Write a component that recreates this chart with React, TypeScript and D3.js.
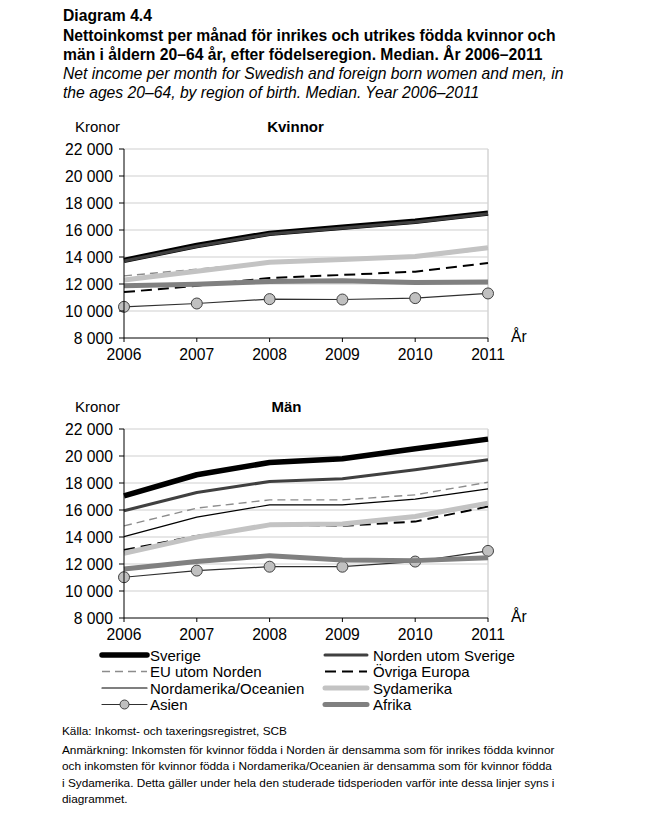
import React from "react";
import * as d3 from "d3";

const years = [2006, 2007, 2008, 2009, 2010, 2011];
const yTicks = [8000, 10000, 12000, 14000, 16000, 18000, 20000, 22000];

const seriesNames = [
  "Sverige",
  "Norden utom Sverige",
  "EU utom Norden",
  "Övriga Europa",
  "Nordamerika/Oceanien",
  "Sydamerika",
  "Asien",
  "Afrika",
];

// Kvinnor
const kvSverige = [13750, 14850, 15750, 16200, 16650, 17250];
const kvNorden = [13700, 14800, 15700, 16150, 16600, 17200];
const kvEU = [12600, 13100, 13600, 13800, 13950, 14600];
const kvOvrigaEuropa = [11400, 11870, 12450, 12670, 12910, 13560];
const kvNordamerika = [12320, 12960, 13630, 13850, 14050, 14700];
const kvSydamerika = [12300, 12940, 13610, 13810, 14030, 14680];
const kvAsien = [10310, 10555, 10880, 10850, 10955, 11300];
const kvAfrika = [11870, 11980, 12190, 12245, 12120, 12150];

// Män
const manSverige = [17050, 18610, 19520, 19800, 20540, 21250];
const manNorden = [15940, 17300, 18110, 18310, 18980, 19720];
const manEU = [14820, 16140, 16750, 16750, 17120, 18060];
const manOvrigaEuropa = [13040, 14080, 14900, 14830, 15140, 16260];
const manNordamerika = [14030, 15470, 16380, 16380, 16800, 17570];
const manSydamerika = [12800, 13990, 14900, 14970, 15520, 16510];
const manAsien = [11020, 11510, 11800, 11800, 12180, 12970];
const manAfrika = [11630, 12180, 12620, 12300, 12250, 12470];

const kvData = [kvSverige, kvNorden, kvEU, kvOvrigaEuropa, kvNordamerika, kvSydamerika, kvAsien, kvAfrika];
const manData = [manSverige, manNorden, manEU, manOvrigaEuropa, manNordamerika, manSydamerika, manAsien, manAfrika];

type Style = { stroke: string; width: number; dash?: string; marker?: boolean };
const styles: Style[] = [
  { stroke: "#000000", width: 5.5 },
  { stroke: "#404040", width: 3 },
  { stroke: "#8c8c8c", width: 1.4, dash: "8,5" },
  { stroke: "#000000", width: 2, dash: "11,6" },
  { stroke: "#000000", width: 1.2 },
  { stroke: "#c3c3c3", width: 5 },
  { stroke: "#303030", width: 1.2, marker: true },
  { stroke: "#808080", width: 5 },
];

const FONT = "'Liberation Sans', Arial, sans-serif";
const fmt = (v: number) => d3.format(",")(v).replace(/,/g, " ");

function Panel({ top, title, titleX, data }: { top: number; title: string; titleX: number; data: number[][] }) {
  const x = d3.scalePoint<number>().domain(years).range([124, 488]);
  const y = d3.scaleLinear().domain([8000, 22000]).range([top + 189, top]);
  const line = d3
    .line<number>()
    .x((_, i) => x(years[i]) as number)
    .y((d) => y(d));
  const bottom = y(8000);
  return (
    <g>
      <text x={75} y={top - 17} fontSize={15} fontFamily={FONT}>Kronor</text>
      <text x={titleX} y={top - 17} fontSize={15} fontWeight="bold" fontFamily={FONT} textAnchor="middle">{title}</text>
      {yTicks.slice(1).map((t) => (
        <line key={t} x1={124} x2={488} y1={y(t)} y2={y(t)} stroke="#cfcfcf" strokeWidth={1} />
      ))}
      <line x1={488} x2={488} y1={y(22000)} y2={bottom} stroke="#d4d4d4" strokeWidth={1.5} />
      {data.map((vals, i) => {
        const s = styles[i];
        return (
          <g key={i}>
            <path d={line(vals) || ""} fill="none" stroke={s.stroke} strokeWidth={s.width} strokeDasharray={s.dash} strokeLinejoin="round" />
            {s.marker &&
              vals.map((v, j) => (
                <circle key={j} cx={x(years[j])} cy={y(v)} r={5.5} fill="#c0c0c0" stroke="#404040" strokeWidth={1} />
              ))}
          </g>
        );
      })}
      <line x1={124} x2={124} y1={y(22000)} y2={bottom} stroke="#000" strokeWidth={1} />
      <line x1={124} x2={488} y1={bottom} y2={bottom} stroke="#000" strokeWidth={1} />
      {yTicks.map((t) => (
        <g key={t}>
          <line x1={119} x2={124} y1={y(t)} y2={y(t)} stroke="#000" />
          <text x={113} y={y(t) + 5.5} fontSize={15.7} fontFamily={FONT} textAnchor="end">{fmt(t)}</text>
        </g>
      ))}
      {years.map((yr) => (
        <g key={yr}>
          <line x1={x(yr)} x2={x(yr)} y1={bottom} y2={bottom + 4} stroke="#000" />
          <text x={x(yr)} y={bottom + 22} fontSize={15.7} fontFamily={FONT} textAnchor="middle">{yr}</text>
        </g>
      ))}
      <text x={511} y={bottom + 4} fontSize={15.7} fontFamily={FONT}>År</text>
    </g>
  );
}

function Legend() {
  return (
    <g>
      {seriesNames.map((name, i) => {
        const col = i % 2;
        const row = Math.floor(i / 2);
        const x0 = col === 0 ? 102 : 325;
        const x1 = col === 0 ? 147 : 367;
        const cy = 655 + row * 16.5;
        const s = styles[i];
        return (
          <g key={name}>
            <line x1={x0} x2={x1} y1={cy} y2={cy} stroke={s.stroke} strokeWidth={s.width} strokeDasharray={s.dash} strokeLinecap={s.dash ? "butt" : "round"} />
            {s.marker && <circle cx={(x0 + x1) / 2} cy={cy} r={4.5} fill="#c0c0c0" stroke="#404040" strokeWidth={1} />}
            <text x={col === 0 ? 150 : 373} y={cy + 5.5} fontSize={15} fontFamily={FONT}>{name}</text>
          </g>
        );
      })}
    </g>
  );
}

export default function App() {
  const footLines = [
    "Anmärkning: Inkomsten för kvinnor födda i Norden är densamma som för inrikes födda kvinnor",
    "och inkomsten för kvinnor födda i Nordamerika/Oceanien är densamma som för kvinnor födda",
    "i Sydamerika. Detta gäller under hela den studerade tidsperioden varför inte dessa linjer syns i",
    "diagrammet.",
  ];
  return (
    <svg width={647} height={815} style={{ position: "absolute", left: 0, top: 0, background: "#fff" }}>
      <text x={63} y={21} fontSize={15.7} fontWeight="bold" fontFamily={FONT}>Diagram 4.4</text>
      <text x={63} y={40.5} fontSize={15.7} fontWeight="bold" fontFamily={FONT}>Nettoinkomst per månad för inrikes och utrikes födda kvinnor och</text>
      <text x={63} y={59.5} fontSize={15.7} fontWeight="bold" fontFamily={FONT}>män i åldern 20–64 år, efter födelseregion. Median. År 2006–2011</text>
      <text x={63} y={79} fontSize={15.7} fontStyle="italic" fontFamily={FONT}>Net income per month for Swedish and foreign born women and men, in</text>
      <text x={63} y={98} fontSize={15.7} fontStyle="italic" fontFamily={FONT}>the ages 20–64, by region of birth. Median. Year 2006–2011</text>
      <Panel top={149} title="Kvinnor" titleX={295.5} data={kvData} />
      <Panel top={429} title="Män" titleX={286.5} data={manData} />
      <Legend />
      <text x={62} y={735} fontSize={11.8} fontFamily={FONT}>Källa: Inkomst- och taxeringsregistret, SCB</text>
      {footLines.map((l, i) => (
        <text key={i} x={62} y={754 + i * 16.3} fontSize={11.8} fontFamily={FONT}>{l}</text>
      ))}
    </svg>
  );
}
